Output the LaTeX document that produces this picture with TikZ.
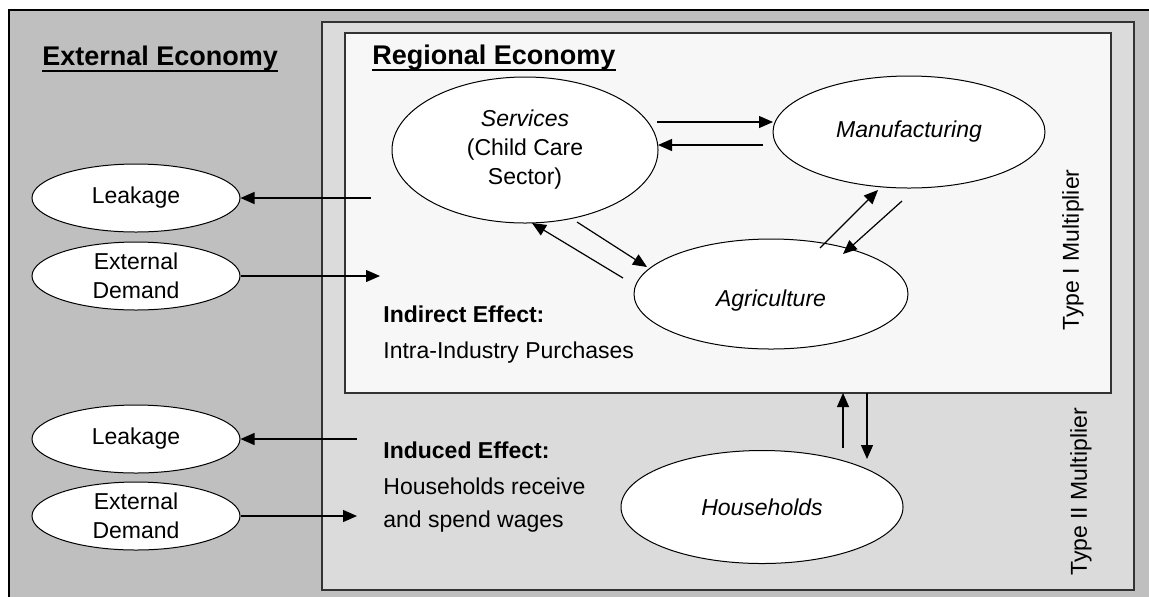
\documentclass[tikz,border=0pt]{standalone}
\usepackage{fontspec}
\setmainfont{Liberation Sans}
\usetikzlibrary{shapes.geometric,arrows.meta}

\definecolor{extgray}{gray}{0.75}
\definecolor{reggray}{gray}{0.86}
\definecolor{inngray}{gray}{0.97}
\definecolor{boxedge}{gray}{0.2}

\tikzset{
  sector/.style={ellipse, draw, fill=white, line width=0.5pt, inner sep=0pt,
    align=center, font=\fontsize{11.5}{14.5}\selectfont},
  sidebox/.style={sector, minimum width=104pt, minimum height=34pt},
  flow/.style={-{Triangle[length=7pt,width=6pt]}, line width=0.6pt},
  heading/.style={inner sep=0pt, anchor=base west, font=\fontsize{13.5}{16}\selectfont\bfseries},
  plain/.style={inner sep=0pt, anchor=base west, font=\fontsize{11.5}{14}\selectfont},
  mult/.style={inner sep=0pt, rotate=90, font=\fontsize{11.5}{14}\selectfont},
}

\begin{document}
\begin{tikzpicture}[x=0.5pt,y=-0.5pt]
  \useasboundingbox (0,0) rectangle (1149,596);

  % the three economies
  \draw[line width=0.9pt, fill=extgray] (9,10) rectangle (1165,615);
  \draw[line width=0.8pt, draw=boxedge, fill=reggray] (322,22) rectangle (1134,590);
  \draw[line width=0.8pt, draw=boxedge, fill=inngray] (345,33) rectangle (1111,393);

  \node[heading] (hdext) at (42,65) {External Economy};
  \node[heading] (hdreg) at (372,64) {Regional Economy};
  \draw[line width=1.1pt] ([yshift=-3pt]hdext.base west) -- ([yshift=-3pt]hdext.base east);
  \draw[line width=1.1pt] ([yshift=-3pt]hdreg.base west) -- ([yshift=-3pt]hdreg.base east);

  % sectors
  \node[sector, minimum width=133pt, minimum height=73pt] (serv) at (525,150)
    {\textit{Services}\\(Child Care\\Sector)};
  \node[sector, minimum width=136pt, minimum height=56pt] (manu) at (909,132)
    {\textit{Manufacturing}};
  \node[sector, minimum width=137pt, minimum height=55pt, text height=15pt] (agri) at (771,294)
    {\textit{Agriculture}};
  \node[sector, minimum width=141pt, minimum height=56.5pt] (hous) at (762,507)
    {\textit{Households}};

  % outside
  \node[sidebox] (leakA) at (136,198) {Leakage};
  \node[sidebox] (demA) at (136,276) {External\\Demand};
  \node[sidebox] (leakB) at (136,439) {Leakage};
  \node[sidebox] (demB) at (136,516) {External\\Demand};

  \node[plain] (indir) at (383,322) {\textbf{Indirect Effect:}};
  \node[plain] (indirtx) at (383,358) {Intra-Industry Purchases};
  \node[plain] (induc) at (383,458) {\textbf{Induced Effect:}};
  \node[plain] (inductx) at (383,494) {Households receive};
  \node[plain] (inductxb) at (383,527) {and spend wages};

  \node[mult] (typeI) at (1073,250) {Type I Multiplier};
  \node[mult] (typeII) at (1081,492) {Type II Multiplier};

  % arrow ends
  \coordinate (smA) at (657,122);
  \coordinate (smB) at (773,122);
  \coordinate (msA) at (763,145);
  \coordinate (msB) at (658,145);
  \coordinate (saA) at (577,222);
  \coordinate (saB) at (647,267);
  \coordinate (asA) at (623,278);
  \coordinate (asB) at (532,223);
  \coordinate (amA) at (820,248);
  \coordinate (amB) at (878,190);
  \coordinate (maA) at (902,201);
  \coordinate (maB) at (843,254);
  \coordinate (hiA) at (843,448);
  \coordinate (hiB) at (843,393);
  \coordinate (ihA) at (867,393);
  \coordinate (ihB) at (867,459);
  \coordinate (lkA) at (371,198);
  \coordinate (edA) at (380,276);
  \coordinate (lkB) at (357,439);
  \coordinate (edB) at (357,516);

  \draw[flow] (smA) -- (smB);
  \draw[flow] (msA) -- (msB);
  \draw[flow] (saA) -- (saB);
  \draw[flow] (asA) -- (asB);
  \draw[flow] (amA) -- (amB);
  \draw[flow] (maA) -- (maB);
  \draw[flow] (hiA) -- (hiB);
  \draw[flow] (ihA) -- (ihB);
  \draw[flow] (lkA) -- (leakA.east);
  \draw[flow] (demA.east) -- (edA);
  \draw[flow] (lkB) -- (leakB.east);
  \draw[flow] (demB.east) -- (edB);
\end{tikzpicture}
\end{document}
